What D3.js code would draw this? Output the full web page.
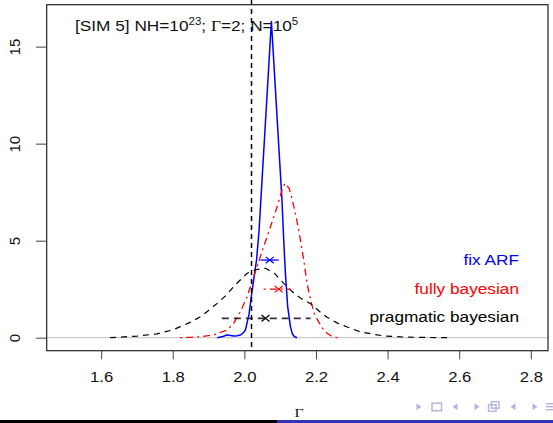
<!DOCTYPE html>
<html><head><meta charset="utf-8">
<script src="https://cdn.jsdelivr.net/npm/d3@7"></script>
<style>html,body{margin:0;padding:0;background:#fff;}svg{display:block;}</style>
</head><body>
<script>
// ---- data ----
const fixArfX = [1.924,1.940,1.951,1.962,1.970,1.980,1.989,1.997,2.003,2.008,2.013,2.020,2.027,2.034,2.041,2.0755,2.105,2.110,2.1147,2.121,2.1287,2.134,2.140,2.147];
const fixArfY = [0,0.06,0.14,0.11,0.09,0.10,0.14,0.25,0.4,0.8,1.2,2.2,3.1,4.0,5.5,16.3,7.1,5.0,3.3,1.6,0.57,0.2,0.05,0];
const fullyX = [1.821,1.85,1.877,1.914,1.952,1.970,1.989,2.0076,2.026,2.054,2.073,2.0915,2.105,2.113,2.125,2.134,2.145,2.155,2.166,2.175,2.185,2.196,2.208,2.22,2.231,2.245,2.26];
const fullyY = [0,0.02,0.05,0.14,0.4,0.74,1.34,2.11,3.14,4.69,5.72,6.75,7.6,7.95,7.7,7.1,6.2,5.2,4.0,2.8,1.94,1.2,0.8,0.45,0.23,0.06,0];
const pragX = [1.625,1.70,1.756,1.80,1.821,1.85,1.877,1.90,1.924,1.95,1.970,1.99,2.008,2.03,2.059,2.085,2.11,2.138,2.16,2.185,2.21,2.231,2.26,2.287,2.324,2.36,2.39,2.45,2.52,2.567];
const pragY = [0,0.08,0.2,0.4,0.57,0.8,1.08,1.4,1.77,2.2,2.63,3.0,3.32,3.5,3.58,3.3,2.8,2.3,2.0,1.75,1.35,1.05,0.75,0.55,0.3,0.18,0.09,0.03,0.01,0];
const seriesNames = ["fix ARF","fully bayesian","pragmatic bayesian"];
const intervalLo = [2.045,2.054,1.937];
const intervalHi = [2.096,2.129,2.185];
const intervalMid = [2.071,2.096,2.059];
const intervalLevel = [4.0,2.5,1.0];
const trueGamma = 2.02;
const xTicks = [1.6,1.8,2.0,2.2,2.4,2.6,2.8];
const yTicks = [0,5,10,15];

const W=553,H=423, SX=1.15;
const svg = d3.select("body").append("svg").attr("width",W).attr("height",H);
const x = d3.scaleLinear().domain([1.448,2.848]).range([46.7,548]);
const y = d3.scaleLinear().domain([-0.67,17.16]).range([350.7,4.7]);
const font = "'Liberation Sans', Arial, Helvetica, sans-serif";
const colors = ["#0000ff","#ff0000","#000000"];

// zero line
svg.append("line").attr("x1",x.range()[0]).attr("x2",x.range()[1]).attr("y1",y(0)).attr("y2",y(0))
  .attr("stroke","#bebebe").attr("stroke-width",1);

const line = d3.line().x(d=>x(d[0])).y(d=>y(d[1]));
const curves = [
  {xs:fixArfX, ys:fixArfY, dash:null, w:1.5},
  {xs:fullyX, ys:fullyY, dash:"2,4,7,4", w:1.3},
  {xs:pragX, ys:pragY, dash:"6,5", w:1.2}
];
curves.forEach((c,i)=>{
  svg.append("path").attr("d", line(c.xs.map((v,j)=>[v,c.ys[j]])))
    .attr("fill","none").attr("stroke",colors[i]).attr("stroke-width",c.w)
    .attr("stroke-dasharray",c.dash).attr("stroke-linejoin","round");
});

// intervals
const ivDash = [null,"2,4,7,4","7,5"];
const ivColor = ["#0000ff","#ff0000","#333"];
intervalLevel.forEach((lv,i)=>{
  svg.append("line").attr("x1",x(intervalLo[i])).attr("x2",x(intervalHi[i]))
    .attr("y1",y(lv)).attr("y2",y(lv)).attr("stroke",ivColor[i])
    .attr("stroke-width",i==2?1.8:1.3).attr("stroke-dasharray",ivDash[i]);
  const cx=x(intervalMid[i]), cy=y(lv), r=4;
  svg.append("path").attr("d",`M${cx-r},${cy-r*0.8}L${cx+r},${cy+r*0.8}M${cx-r},${cy+r*0.8}L${cx+r},${cy-r*0.8}`)
    .attr("stroke",colors[i]).attr("stroke-width",1.2).attr("fill","none");
});

// vertical true value
svg.append("line").attr("x1",x(trueGamma)).attr("x2",x(trueGamma)).attr("y1",0).attr("y2",348)
  .attr("stroke","#000").attr("stroke-width",1.5).attr("stroke-dasharray","5,4");

// box
svg.append("rect").attr("x",46.7).attr("y",4.7).attr("width",548-46.7).attr("height",350.7-4.7)
  .attr("fill","none").attr("stroke","#222").attr("stroke-width",1.2);

// x axis
const xAx = svg.append("g").attr("transform","translate(0,350.7)")
  .call(d3.axisBottom(x).tickValues(xTicks).tickSize(8.6).tickPadding(0).tickFormat(d3.format(".1f")));
xAx.select(".domain").remove();
xAx.selectAll(".tick line").attr("stroke","#444");
xAx.selectAll(".tick text").attr("y",0).attr("dy",null)
  .attr("transform","translate(0,31.6) scale("+SX+",1)")
  .style("font-family",font).style("font-size","14.5px").attr("fill","#111");

// y axis
const yAx = svg.append("g").attr("transform","translate(46.7,0)")
  .call(d3.axisLeft(y).tickValues(yTicks).tickSize(10.7).tickPadding(0));
yAx.select(".domain").remove();
yAx.selectAll(".tick line").attr("stroke","#444");
yAx.selectAll(".tick text").attr("x",0).attr("dy",null).attr("text-anchor","middle")
  .attr("transform","translate(-26.7,0) rotate(-90)")
  .style("font-family",font).style("font-size","15px").attr("fill","#111");

// title
const t = svg.append("text").attr("transform","translate(75,31) scale("+SX+",1)")
  .style("font-family",font).style("font-size","15px").attr("fill","#111");
t.append("tspan").text("[SIM 5] NH=10");
t.append("tspan").attr("dy",-6).style("font-size","10px").text("23");
t.append("tspan").attr("dy",6).text("; ");
t.append("tspan").style("font-family","'Liberation Serif','DejaVu Serif',serif").text("Γ");
t.append("tspan").text("=2; N=10");
t.append("tspan").attr("dy",-6).style("font-size","10px").text("5");

// legend
const legY = [264.5,293.5,322];
seriesNames.forEach((n,i)=>{
  svg.append("text").attr("transform",`translate(519,${legY[i]}) scale(${SX},1)`)
    .attr("text-anchor","end").style("font-family",font).style("font-size","15px")
    .attr("fill",colors[i]).text(n);
});

// x label
svg.append("text").attr("transform","translate(299,417) scale(1.2,1)").attr("text-anchor","middle")
  .style("font-family","'Liberation Serif','DejaVu Serif',serif").style("font-size","13px")
  .attr("fill","#111").text("Γ");

// beamer navigation symbols
const navCol = "#b4b4e0";
const nav = svg.append("g").attr("fill",navCol).attr("stroke",navCol);
const navY = 406.7;
[[419,-1],[455,1],[477,-1],[513,1],[535,-1]].forEach(([cx,dir])=>{
  nav.append("path").attr("d",`M${cx-2.5*dir},${navY}L${cx+2.5*dir},${navY-3.5}L${cx+2.5*dir},${navY+3.5}Z`).attr("stroke","none");
});
nav.append("rect").attr("x",432).attr("y",navY-3.5).attr("width",9.5).attr("height",7.5).attr("fill","none").attr("stroke-width",1.5);
nav.append("rect").attr("x",488.5).attr("y",navY-2).attr("width",7.5).attr("height",6.5).attr("fill","#fff").attr("stroke-width",1.4);
nav.append("rect").attr("x",491.5).attr("y",navY-5).attr("width",7.5).attr("height",6.5).attr("fill","none").attr("stroke-width",1.4);
[ -3,0,3].forEach(dy=>nav.append("line").attr("x1",546).attr("x2",553).attr("y1",navY+dy).attr("y2",navY+dy).attr("stroke-width",1.4));

// bottom bar
svg.append("rect").attr("x",0).attr("y",420).attr("width",277).attr("height",3).attr("fill","#000");
svg.append("rect").attr("x",277).attr("y",420).attr("width",W-277).attr("height",3).attr("fill","#3333b3");
</script>
</body></html>
